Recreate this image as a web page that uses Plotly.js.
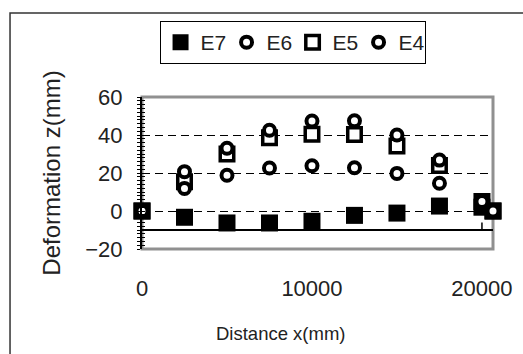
<!DOCTYPE html>
<html>
<head>
<meta charset="utf-8">
<script src="https://cdn.plot.ly/plotly-3.0.1.min.js"></script>
<style>html,body{margin:0;padding:0;background:#fff;}#chart{width:523px;height:354px;}</style>
</head>
<body>
<div id="chart"></div>
<script>
// Distance x (mm)
const distance = [0, 2500, 5000, 7500, 10000, 12500, 15000, 17500, 20000, 20650];
// Deformation z (mm) per series
const E7 = [0, -3.3, -6.3, -6.3, -5.4, -2.3, -1.1, 2.6, 2.0, 0];
const E6 = [0, 11.9, 18.8, 22.6, 23.8, 22.8, 19.8, 14.6, 4.5, 0];
const E5 = [0, 15.4, 30.0, 38.6, 40.4, 40.2, 34.2, 24.0, 5.0, 0];
const E4 = [0, 20.7, 33.0, 42.5, 47.4, 47.5, 40.0, 26.8, 5.0, 0];
const yTicks = [-20, 0, 20, 40, 60];
const xTicks = [0, 10000, 20000];
const xTickText = ['0', '10000', '20000'];
const xAxisCrossY = -10;

const FONT = '"Liberation Sans", Arial, sans-serif';
const TXT = '#222222';
const circleMarker = {symbol: 'circle', size: 11, color: '#ffffff', line: {color: '#000000', width: 4}};

const traces = [
  {name: 'E5', x: distance, y: E5, mode: 'markers', legendrank: 3, cliponaxis: false,
   marker: {symbol: 'square', size: 13.5, color: '#ffffff', line: {color: '#000000', width: 3.5}}},
  {name: 'E7', x: distance, y: E7, mode: 'markers', legendrank: 1, cliponaxis: false,
   marker: {symbol: 'square', size: 17, color: '#000000', line: {width: 0}}},
  {name: 'E6', x: distance, y: E6, mode: 'markers', legendrank: 2, cliponaxis: false, marker: circleMarker},
  {name: 'E4', x: distance, y: E4, mode: 'markers', legendrank: 4, cliponaxis: false, marker: circleMarker},
  // empty helper trace so the inner tick axis is drawn
  {x: [], y: [], xaxis: 'x', yaxis: 'y2', showlegend: false, mode: 'markers', hoverinfo: 'skip'}
];

const shapes = [
  {type: 'rect', xref: 'paper', yref: 'paper', x0: 0, x1: 1, y0: 0, y1: 1, layer: 'between',
   line: {color: '#909090', width: 3}},
  {type: 'rect', xref: 'paper', yref: 'paper', x0: -0.376, x1: 1.3, y0: -1, y1: 1.553,
   layer: 'below', line: {color: '#333333', width: 1.5}},
  {type: 'line', xref: 'paper', yref: 'y', x0: 0, x1: 1, y0: xAxisCrossY, y1: xAxisCrossY,
   layer: 'between', line: {color: '#000000', width: 2}}
];
xTicks.slice(1).forEach(function (v) {
  shapes.push({type: 'line', xref: 'x', yref: 'y', x0: v, x1: v, y0: xAxisCrossY, y1: xAxisCrossY + 4,
               layer: 'between', line: {color: '#000000', width: 1.5}});
});

const layout = {
  width: 523, height: 354,
  margin: {l: 142, r: 30, t: 97, b: 105},
  paper_bgcolor: '#ffffff', plot_bgcolor: '#ffffff',
  font: {family: FONT, color: TXT, size: 20},
  showlegend: true,
  legend: {orientation: 'h', x: 0.05, xanchor: 'left', y: 1.5, yanchor: 'top',
           bordercolor: '#000000', borderwidth: 1, bgcolor: '#ffffff',
           entrywidth: 21, entrywidthmode: 'pixels',
           font: {family: FONT, size: 21, color: TXT}, traceorder: 'normal', itemclick: false},
  annotations: [
    {text: 'Distance x(mm)', xref: 'paper', yref: 'paper', x: 0.396, y: -0.555,
     xanchor: 'center', yanchor: 'middle', showarrow: false,
     font: {family: FONT, size: 18.5, color: TXT}}
  ],
  xaxis: {range: [0, 20650], tickvals: xTicks, ticktext: xTickText, showgrid: false, zeroline: false,
          showline: false, ticks: '', ticklabelstandoff: 24,
          tickfont: {family: FONT, size: 22, color: TXT}},
  yaxis: {range: [-20, 60], tickvals: yTicks, showgrid: true, gridcolor: '#000000', gridwidth: 1,
          griddash: '8px,5px', zeroline: false, showline: true, linecolor: '#000000', linewidth: 2,
          ticks: 'outside', ticklen: 3, tickcolor: '#000000',
          minor: {dtick: 2, ticks: 'outside', ticklen: 3, tickcolor: '#000000', showgrid: false},
          ticklabelstandoff: 10,
          tickfont: {family: FONT, size: 22, color: TXT},
          title: {text: 'Deformation z(mm)', font: {family: FONT, size: 24, color: TXT}, standoff: 18}},
  yaxis2: {range: [-20, 60], overlaying: 'y', side: 'left', anchor: 'x', showline: false,
           ticks: 'inside', ticklen: 3, tickcolor: '#000000', tickvals: yTicks, showticklabels: false,
           minor: {dtick: 2, ticks: 'inside', ticklen: 3, tickcolor: '#000000', showgrid: false},
           showgrid: false, zeroline: false},
  shapes: shapes
};

Plotly.newPlot('chart', traces, layout, {displayModeBar: false, staticPlot: true});
</script>
</body>
</html>
